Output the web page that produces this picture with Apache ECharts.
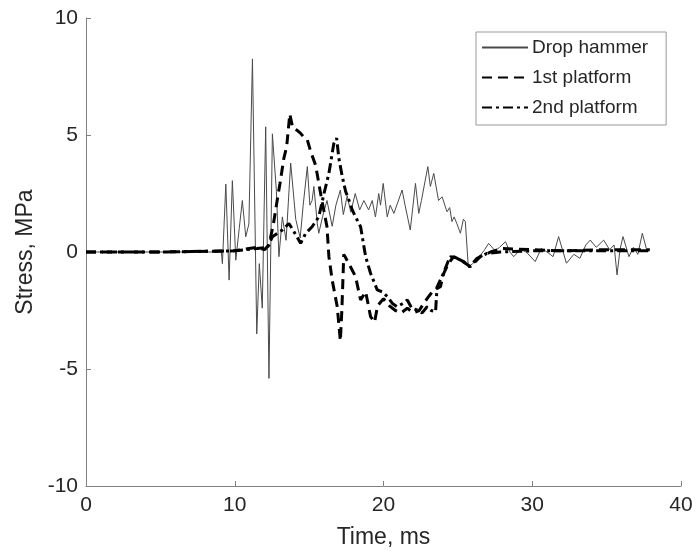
<!DOCTYPE html>
<html>
<head>
<meta charset="utf-8">
<script src="https://cdn.jsdelivr.net/npm/echarts@6/dist/echarts.min.js"></script>
<style>
html, body { margin: 0; padding: 0; background: #fff; }
#chart { width: 698px; height: 554px; }
</style>
</head>
<body>
<div id="chart"></div>
<script>
// ---------------- data ----------------
var seriesNames = [ 'Drop hammer', '1st platform', '2nd platform' ];
var xTicks = [ 0, 10, 20, 30, 40 ];
var yTicks = [ -10, -5, 0, 5, 10 ];

var hammerTime = [ 0, 9.1, 9.17, 9.4, 9.62, 9.84, 10.07, 10.3, 10.51, 10.74,
		10.95, 11.19, 11.48, 11.65, 11.85, 12.08, 12.3, 12.53, 12.8, 12.97,
		13.2, 13.45, 13.76, 14.1, 14.4, 14.6, 14.88, 15.05, 15.2, 15.32,
		15.55, 15.65, 15.9, 16.2, 16.55, 16.8, 17.1, 17.3, 17.56, 17.8,
		18.1, 18.4, 18.68, 19.0, 19.24, 19.46, 19.68, 19.8, 19.98, 20.25,
		20.45, 20.7, 20.95, 21.25, 21.45, 21.8, 22.15, 22.37, 22.55, 22.98,
		23.15, 23.38, 23.7, 23.94, 24.27, 24.45, 24.6, 24.75, 24.94, 25.17,
		25.37, 25.5, 25.7, 26.0, 26.5, 26.8, 27.07, 27.5, 27.8, 28.2,
		28.5, 28.75, 29.2, 29.6, 30.2, 30.6, 31.0, 31.4, 31.77, 32.3,
		32.8, 33.2, 33.6, 33.9, 34.3, 34.8, 35.2, 35.5, 35.7, 35.9,
		36.1, 36.5, 36.8, 37.1, 37.4, 37.7, 37.9 ];
var hammerStress = [ 0, 0, -0.5, 2.9, -1.2, 3.05, -0.35, 1.0, 2.2, 0.65,
		1.2, 8.25, -3.5, -0.5, -2.4, 5.35, -5.4, 5.05, 2.6, -0.2,
		1.5, 0.5, 3.8, 1.4, 0.6, 2.0, 3.65, 2.0, 2.2, 2.8,
		1.2, 0.8, 1.5, 2.2, 1.1, 2.0, 2.65, 1.6, 2.4, 1.7,
		2.5, 1.8, 2.2, 1.8, 2.2, 1.5, 2.5, 2.0, 2.93, 1.5,
		2.0, 1.65, 2.1, 2.65, 2.0, 0.94, 2.93, 1.65, 2.2, 3.65,
		2.8, 3.36, 2.2, 2.36, 1.72, 1.9, 1.3, 1.5, 1.2, 0.8,
		1.4, 1.3, -0.63, -0.5, -0.15, 0.1, 0.37, 0.05, 0.2, 0.44,
		0.0, -0.2, 0.1, 0.0, -0.41, 0.15, 0.0, -0.2, 0.66, -0.48,
		-0.1, -0.27, 0.3, 0.51, 0.2, 0.51, 0.1, 0.3, -0.98, 0.1,
		0.66, -0.2, 0.2, -0.1, 0.8, 0.08, 0.1 ];

var platform1Time = [ 0, 5, 10, 11.5, 12.0, 12.3, 12.6, 12.9, 13.04, 13.3,
		13.49, 13.7, 13.9, 14.2, 14.43, 14.65, 14.88, 15.1, 15.44, 15.8,
		16.2, 16.33, 16.55, 16.89, 17.1, 17.2, 17.33, 17.5, 17.78, 18.12,
		18.46, 18.8, 19.13, 19.4, 19.6, 20.0, 20.4, 20.8, 21.2, 21.6,
		22.0, 22.4, 22.7, 23.04, 23.38, 23.83, 24.05, 24.38, 24.72, 25.17,
		25.5, 25.84, 26.5, 27.2, 28, 30, 32, 35, 37.9 ];
var platform1Stress = [ 0, 0, 0.05, 0.2, 0.1, 0.3, 1.2, 2.4, 2.93, 4.0,
		4.5, 5.9, 5.3, 5.2, 5.07, 4.9, 4.79, 4.3, 3.7, 2.4,
		1.08, -0.2, -1.2, -2.34, -3.8, -2.5, -0.1, -0.3, -0.63, -1.05,
		-2.05, -1.7, -2.76, -3.0, -2.3, -2.0, -2.3, -2.5, -2.6, -2.4,
		-2.6, -2.5, -2.2, -1.9, -1.62, -1.48, -0.91, -0.48, -0.2, -0.34,
		-0.48, -0.63, -0.2, 0, 0.15, 0.1, 0.05, 0.1, 0.1 ];

var platform2Time = [ 0, 5, 10, 11.5, 12.2, 12.53, 13.2, 13.64, 13.98, 14.43,
		14.77, 15.2, 15.65, 16.0, 16.33, 16.66, 16.85, 17.0, 17.23, 17.45,
		17.67, 17.9, 18.12, 18.46, 18.8, 19.13, 19.58, 19.9, 20.25, 20.6,
		20.92, 21.3, 21.6, 21.9, 22.26, 22.6, 22.93, 23.2, 23.5, 23.6,
		24.03, 24.38, 24.5, 24.94, 25.39, 25.8, 26.29, 26.96, 27.85, 30,
		33, 36, 37.9 ];
var platform2Stress = [ 0, 0, 0.05, 0.15, 0.2, 0.65, 0.94, 1.22, 0.87, 0.37,
		0.8, 1.08, 1.5, 2.5, 3.36, 4.64, 4.86, 4.0, 3.22, 2.6,
		2.22, 1.8, 1.5, 1.08, -0.2, -0.91, -1.62, -1.7, -1.9, -2.2,
		-2.34, -2.2, -2.05, -2.4, -2.48, -2.6, -2.34, -2.5, -2.55, -1.5,
		-0.91, -0.34, -0.2, -0.27, -0.41, -0.63, -0.27, -0.06, 0, 0.05,
		0.05, 0.05, 0.05 ];

// 拼成 [x, y] 点
function zip(xs, ys) {
	var out = [];
	for (var i = 0; i < xs.length; i++) {
		out.push([ xs[i], ys[i] ]);
	}
	return out;
}

var fontFamily = 'Liberation Sans, Arial, sans-serif';
var textColor = '#262626';
var axisColor = '#808080';

var option = {
	animation : false,
	backgroundColor : '#fff',
	grid : {
		left : 86,
		right : 17,
		top : 18,
		bottom : 68
	},
	legend : {
		orient : 'vertical',
		left : 476,
		top : 32,
		padding : [ 6, 18, 8, 5 ],
		itemGap : 11,
		itemWidth : 46,
		itemHeight : 22,
		borderColor : '#999',
		borderWidth : 1,
		itemStyle : { opacity : 0 },
		textStyle : {
			fontFamily : fontFamily,
			fontSize : 19,
			color : textColor,
			padding : [ 0, 0, 0, -1 ]
		},
		data : seriesNames
	},
	xAxis : {
		type : 'value',
		min : xTicks[0],
		max : xTicks[xTicks.length - 1],
		interval : 10,
		name : 'Time, ms',
		nameLocation : 'middle',
		nameGap : 40,
		nameTextStyle : {
			fontFamily : fontFamily,
			fontSize : 23,
			color : textColor
		},
		axisLine : {
			show : true,
			onZero : false,
			lineStyle : { color : axisColor, width : 1 }
		},
		axisTick : {
			show : true,
			inside : true,
			length : 5,
			lineStyle : { color : axisColor }
		},
		axisLabel : {
			fontFamily : fontFamily,
			fontSize : 21,
			color : textColor,
			margin : 9
		},
		splitLine : { show : false }
	},
	yAxis : {
		type : 'value',
		min : yTicks[0],
		max : yTicks[yTicks.length - 1],
		interval : 5,
		name : 'Stress, MPa',
		nameLocation : 'middle',
		nameRotate : 90,
		nameGap : 49,
		nameTextStyle : {
			fontFamily : fontFamily,
			fontSize : 23,
			color : textColor
		},
		axisLine : {
			show : true,
			onZero : false,
			lineStyle : { color : axisColor, width : 1 }
		},
		axisTick : {
			show : true,
			inside : true,
			length : 5,
			lineStyle : { color : axisColor }
		},
		axisLabel : {
			fontFamily : fontFamily,
			fontSize : 21,
			color : textColor,
			margin : 8
		},
		splitLine : { show : false }
	},
	series : [ {
		name : seriesNames[0],
		type : 'line',
		symbol : 'none',
		data : zip(hammerTime, hammerStress),
		lineStyle : { color : '#4a4a4a', width : 1 },
		itemStyle : { color : '#4a4a4a' }
	}, {
		name : seriesNames[1],
		type : 'line',
		symbol : 'none',
		data : zip(platform1Time, platform1Stress),
		lineStyle : { color : '#000', width : 3, type : [ 10, 6 ] },
		itemStyle : { color : '#000' }
	}, {
		name : seriesNames[2],
		type : 'line',
		symbol : 'none',
		data : zip(platform2Time, platform2Stress),
		lineStyle : { color : '#000', width : 3, type : [ 10, 4, 3, 4 ] },
		itemStyle : { color : '#000' }
	} ]
};

var myChart = echarts.init(document.getElementById('chart'));
myChart.setOption(option);
</script>
</body>
</html>
